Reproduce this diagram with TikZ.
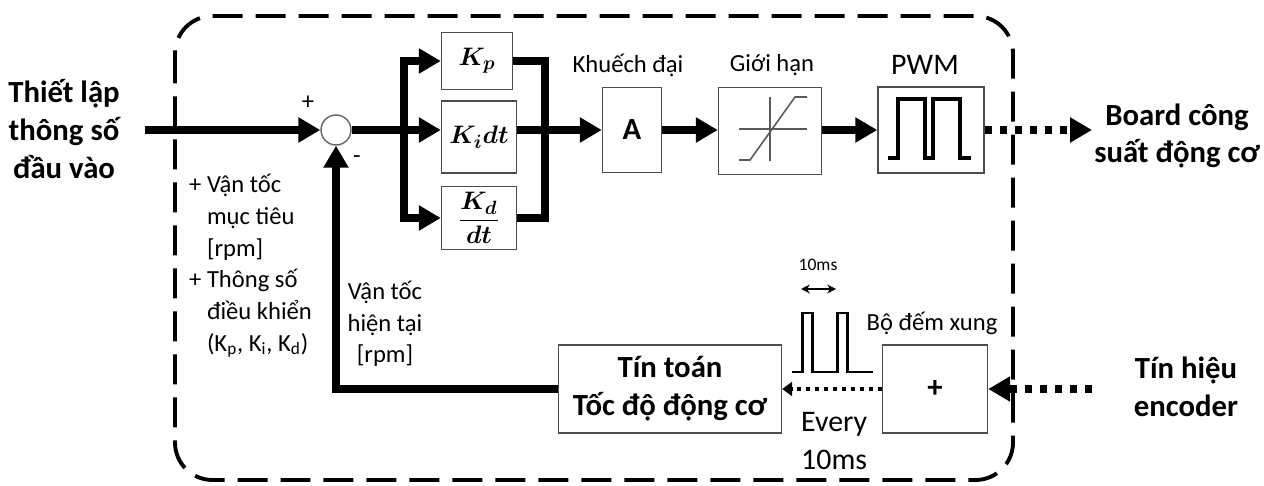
\documentclass[tikz,border=0pt]{standalone}
\usepackage{amsmath,amssymb,bm}
\usepackage{fontspec}
\setmainfont{Carlito}
\usepackage{tikz}
\usetikzlibrary{arrows.meta}

\newcommand{\lblbig}{\fontsize{17.5}{21.5}\selectfont\bfseries}
\newcommand{\lblsmall}{\fontsize{14}{18}\selectfont}
\newcommand{\lblmid}{\fontsize{17}{21.5}\selectfont}
\newcommand{\gainfont}{\fontsize{15}{18}\selectfont}

\begin{document}
\begin{tikzpicture}[x=0.02cm, y=-0.02cm,
  blk/.style={draw=black!70, line width=0.8pt, fill=white, inner sep=0pt},
  fat/.style={line width=4pt},
  bigtip/.style={-{Triangle[length=0.44cm,width=0.48cm]}},
  dotfat/.style={line width=0.16cm, dash pattern=on 0.14cm off 0.16cm},
  dotthin/.style={line width=2.2pt, dash pattern=on 0.08cm off 0.1cm},
  border/.style={line width=2.2pt, dash pattern=on 0.6cm off 0.26cm}]
  \useasboundingbox (0,0) rectangle (1264,486);

  % Controller boundary
  \draw[border, rounded corners=0.75cm] (175,16) rectangle (1013,480);

  % Blocks
  \node[circle, draw=black!60, line width=0.8pt, minimum size=0.6cm, inner sep=0pt] (sum) at (336,130) {};
  \node[blk, font=\gainfont, minimum width=1.42cm, minimum height=1.14cm] (kp) at (477,61) {$\bm{K_p}$};
  \node[blk, font=\gainfont, minimum width=1.5cm, minimum height=1.44cm] (ki) at (479,137) {$\bm{K_i dt}$};
  \node[blk, font=\gainfont, minimum width=1.5cm, minimum height=1.26cm] (kd) at (479,218) {$\dfrac{\bm{K_d}}{\bm{dt}}$};
  \node[blk, minimum width=1.18cm, minimum height=1.7cm, font=\lblbig] (amp) at (632,130) {A};
  \node[blk, minimum width=2.06cm, minimum height=1.74cm] (lim) at (770,131) {};
  \node[blk, minimum width=2.12cm, minimum height=1.72cm] (pwm) at (931,130) {};
  \node[blk, minimum width=4.46cm, minimum height=1.76cm, align=center, font=\lblbig] (calc) at (670,389) {Tín toán\\Tốc độ động cơ};
  \node[blk, minimum width=2.1cm, minimum height=1.76cm, font=\lblbig] (cnt) at (935,389) {+};

  % Limiter and PWM glyphs
  \begin{scope}[shift={(lim.center)}, draw=black!65, line width=0.9pt]
    \draw (-31,-2) -- (37,-2);
    \draw (0,-34) -- (0,30);
    \draw (-31,29) -- (-20,29) -- (25,-34) -- (37,-34);
  \end{scope}
  \draw[line width=2.2pt, shift={(pwm.center)}]
    (-43,28) -- (-33,28) -- (-33,-31) -- (-6,-31) -- (-6,28) -- (2,28)
    -- (2,-31) -- (29,-31) -- (29,28) -- (40,28);

  % Labels
  \node[font=\lblbig, align=center] (setin) at (64,129) {Thiết lập\\thông số\\đầu vào};
  \node[font=\lblbig, align=center] (board) at (1177,136) {Board công\\suất động cơ};
  \node[font=\lblbig, align=center] (encl) at (1186,387) {Tín hiệu\\encoder};
  \node[font=\lblsmall, anchor=west, align=left] (params) at (183,266)
    {+ Vận tốc\\\phantom{+} mục tiêu\\\phantom{+} [rpm]\\+ Thông số\\\phantom{+} điều khiển\\\phantom{+} (K\textsubscript{p}, K\textsubscript{i}, K\textsubscript{d})};
  \node[font=\lblsmall, align=center] (speed) at (385,324) {Vận tốc\\hiện tại\\{[rpm]}};
  \node[font=\lblsmall] (plus) at (308,103) {+};
  \node[font=\lblsmall] (minus) at (357,160) {-};
  \node[font=\lblsmall] (kdai) at (628,65) {Khuếch đại};
  \node[font=\lblsmall] (ghan) at (772,65) {Giới hạn};
  \node[font=\lblmid] (pwml) at (925,65) {PWM};
  \node[font=\lblsmall] (bdx) at (932,323) {Bộ đếm xung};
  \node[font=\lblmid, anchor=west, align=left] (every) at (795,441) {Every\\10ms};
  \node[font=\fontsize{10}{12}\selectfont] (tms) at (818,265) {10ms};

  % Sampling pulses
  \draw[line width=1.7pt] (792,372) -- (802,372) -- (802,313) -- (812,313) -- (812,372)
    -- (837,372) -- (837,313) -- (847,313) -- (847,372) -- (873,372);
  \coordinate (pa) at (801,289);
  \coordinate (pb) at (836,289);
  \draw[line width=0.9pt, {Stealth[length=5pt,width=5pt]}-{Stealth[length=5pt,width=5pt]}] (pa) -- (pb);

  % Forward path
  \coordinate (in) at (145,130);
  \coordinate (br) at (404,130);
  \coordinate (col) at (545,130);
  \coordinate (out) at (1092,130);
  \coordinate (enc) at (1092,389);
  \draw[fat, bigtip] (in) -- (sum.west);
  \draw[fat, bigtip] (sum.east) -- (sum.east -| ki.west);
  \draw[fat, bigtip] (br) |- (kp.west);
  \draw[fat, bigtip] (br) |- (kd.west);
  \draw[fat] (kp.east) -| (col |- kd.east) -- (kd.east);
  \draw[fat, bigtip] (ki.east |- amp.west) -- (amp.west);
  \draw[fat, bigtip] (amp.east) -- (lim.west |- amp.east);
  \draw[fat, bigtip] (lim.east |- pwm.west) -- (pwm.west);
  \draw[dotfat, bigtip] (pwm.east) -- (out);

  % Feedback path
  \draw[dotfat, bigtip] (enc) -- (cnt.east);
  \draw[dotthin, -{Triangle[length=0.2cm,width=0.28cm]}] (cnt.west) -- (calc.east);
  \draw[fat, bigtip] (calc.west) -| (sum.south);
\end{tikzpicture}
\end{document}
